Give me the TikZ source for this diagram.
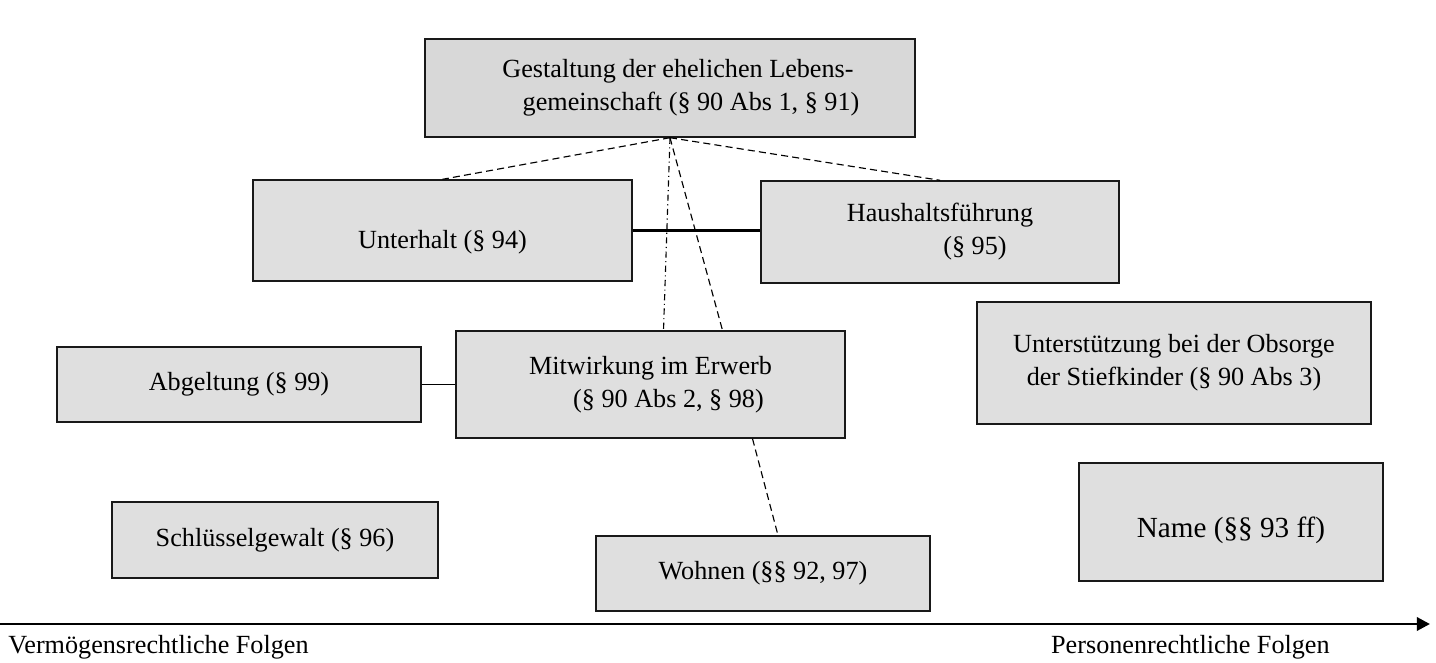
\documentclass[tikz,border=0pt]{standalone}
\usepackage{fontspec}
\setmainfont{Liberation Serif}
\usepackage{tikz}
\usetikzlibrary{positioning}
\usetikzlibrary{calc,arrows.meta}

\definecolor{boxfill}{RGB}{223,223,223}
\definecolor{topfill}{RGB}{216,216,216}

\tikzset{
	folge/.style={draw=black!90, line width=0.8pt, fill=boxfill, rectangle, inner sep=0pt,
		align=center, font=\fontsize{14.9}{18.8}\selectfont},
	dashlink/.style={line width=0.65pt, dash pattern=on 4pt off 2.4pt},
	dotlink/.style={line width=0.65pt, dash pattern=on 3.5pt off 2pt on 0.6pt off 2pt},
}

\begin{document}
\begin{tikzpicture}
	
	\useasboundingbox (0,0) rectangle (28.72,13.24);
	
	% BOXES: placed at their centres, sizes given directly
	\node[folge, fill=topfill, minimum width=9.80cm, minimum height=1.96cm] (Gest) at (13.40,11.48)
		{\hspace*{0.32cm}Gestaltung der ehelichen Lebens-\\\hspace*{0.84cm}gemeinschaft (§ 90 Abs 1, § 91)};
	
	\node[folge, minimum width=7.58cm, minimum height=2.02cm, text height=24pt, text depth=3pt] (Unt) at (8.85,8.63) {Unterhalt (§ 94)};
	\node[folge, minimum width=7.16cm, minimum height=2.04cm] (Haus) at (18.80,8.60) {Haushaltsführung\\\hspace*{1.4cm}(§ 95)};
	
	\node[folge, minimum width=7.78cm, minimum height=2.14cm] (Mitw) at (13.01,5.55) {Mitwirkung im Erwerb\\\hspace*{0.72cm}(§ 90 Abs 2, § 98)};
	\node[folge, minimum width=7.28cm, minimum height=1.50cm] (Abg) at (4.78,5.55) {Abgeltung (§ 99)};
	\node[folge, minimum width=7.88cm, minimum height=2.44cm] (Stief) at (23.48,5.98) {Unterstützung bei der Obsorge\\der Stiefkinder (§ 90 Abs 3)};
	
	\node[folge, minimum width=6.52cm, minimum height=1.52cm] (Schl) at (5.50,2.44) {Schlüsselgewalt (§ 96)};
	\node[folge, minimum width=6.68cm, minimum height=1.50cm] (Wohn) at (15.26,1.77) {Wohnen (§§ 92, 97)};
	\node[folge, minimum width=6.08cm, minimum height=2.36cm, font=\fontsize{16.6}{20}\selectfont,
		text height=21pt, text depth=3.5pt] (Name) at (24.62,2.80) {Name (§§ 93 ff)};
	
	% LINKS FROM THE TOP BOX
	\draw[dashlink] (Gest.south) -- (Unt.north);
	\draw[dashlink] (Gest.south) -- (Haus.north);
	\draw[dotlink]  (Gest.south) -- ([xshift=0.26cm]Mitw.north);
	\draw[dashlink] (Gest.south) -- ([xshift=1.44cm]Mitw.north);
	\draw[dashlink] ([xshift=2.04cm]Mitw.south) -- ([xshift=0.30cm]Wohn.north);
	
	% SOLID LINKS
	\draw[line width=1.7pt] (Unt.east) -- (Unt.east -| Haus.west);
	\draw[line width=1.1pt] (Abg.east) -- (Mitw.west);
	
	% AXIS
	\coordinate (AxL) at (0,0.76);
	\coordinate (AxR) at (28.60,0.76);
	\draw[line width=1.7pt, -{Triangle[length=7.5pt,width=7.5pt]}] (AxL) -- (AxR);
	
	\node[anchor=base west, inner sep=0pt, font=\fontsize{14.9}{18.8}\selectfont] (Verm) at (0.16,0.18) {Vermögensrechtliche Folgen};
	\node[anchor=base east, inner sep=0pt, font=\fontsize{14.9}{18.8}\selectfont] (Pers) at (26.60,0.18) {Personenrechtliche Folgen};
	
\end{tikzpicture}
\end{document}
